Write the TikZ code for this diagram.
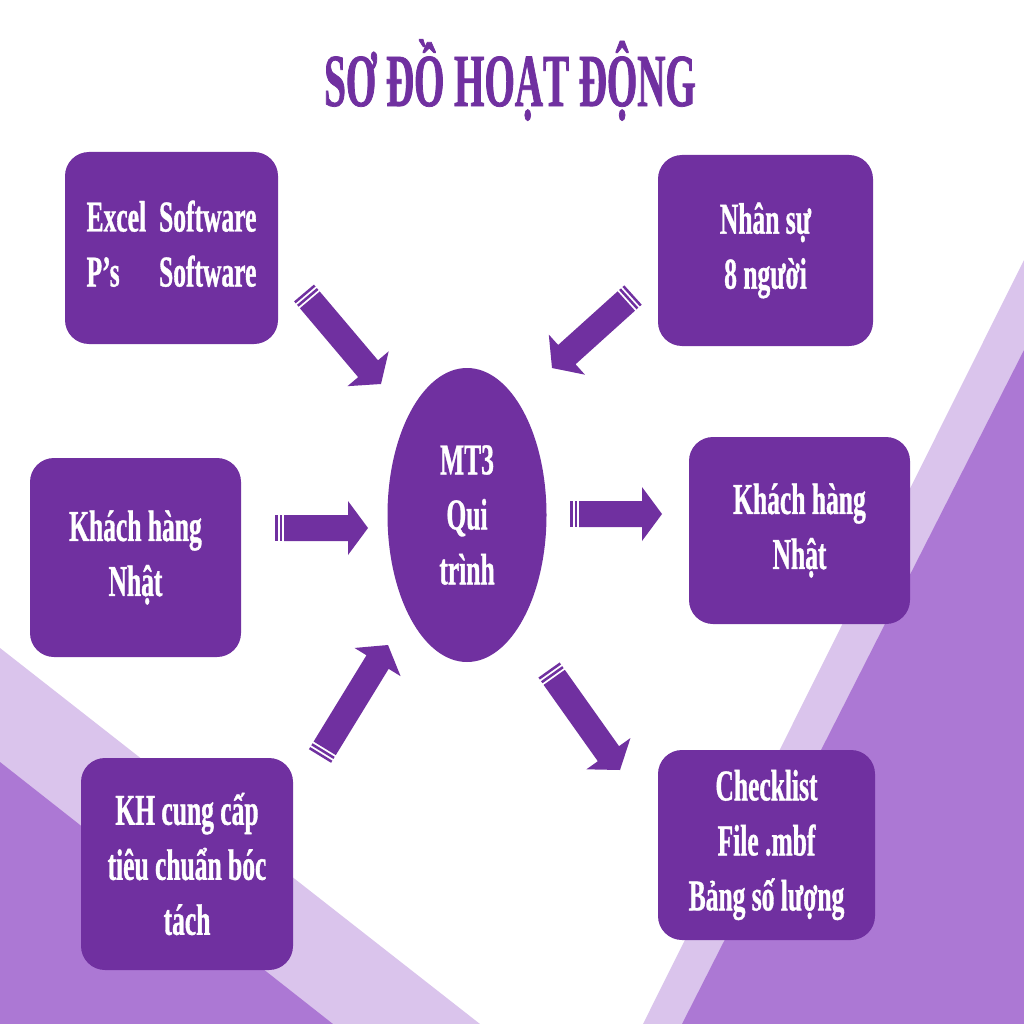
\documentclass[tikz,border=0pt]{standalone}
\usepackage{fontspec}
\usetikzlibrary{calc,shapes.geometric}
\newfontfamily\vnfont[FakeStretch=0.58,FakeBold=0.8]{Liberation Serif}
\newfontfamily\titlefont[FakeStretch=0.52,FakeBold=1]{Liberation Serif}
\definecolor{boxpurple}{HTML}{7030A0}
\definecolor{bandlight}{HTML}{DAC4EC}
\definecolor{banddark}{HTML}{AC78D4}
\tikzset{
  box/.style={fill=boxpurple, rounded corners=24pt, text=white,
    font=\vnfont\bfseries\fontsize{44}{55}\selectfont, align=center, inner sep=0pt},
  hub/.style={ellipse, fill=boxpurple, text=white,
    font=\vnfont\bfseries\fontsize{44}{55}\selectfont, align=center, inner sep=0pt},
  arrowfill/.style={fill=boxpurple},
  titletext/.style={text=boxpurple, font=\titlefont\bfseries\fontsize{75}{80}\selectfont}
}
\newcommand\blockarrow[2]{%
  \coordinate (bA) at (#1);
  \coordinate (bB) at (#2);
  \coordinate (bS) at ($(bA)!9pt!(bB)$);
  \coordinate (bS2) at ($(bA)!2.5pt!(bB)$);
  \coordinate (bS3) at ($(bA)!4.5pt!(bB)$);
  \coordinate (bS4) at ($(bA)!7pt!(bB)$);
  \coordinate (bH) at ($(bB)!20pt!(bA)$);
  \fill[arrowfill] ($(bS)!13pt!90:(bB)$) -- ($(bH)!13pt!-90:(bA)$)
    -- ($(bH)!27pt!-90:(bA)$) -- (bB) -- ($(bH)!27pt!90:(bA)$)
    -- ($(bH)!13pt!90:(bA)$) -- ($(bS)!13pt!-90:(bB)$) -- cycle;
  \fill[arrowfill] ($(bA)!13pt!90:(bB)$) -- ($(bS2)!13pt!90:(bB)$)
    -- ($(bS2)!13pt!-90:(bB)$) -- ($(bA)!13pt!-90:(bB)$) -- cycle;
  \fill[arrowfill] ($(bS3)!13pt!90:(bB)$) -- ($(bS4)!13pt!90:(bB)$)
    -- ($(bS4)!13pt!-90:(bB)$) -- ($(bS3)!13pt!-90:(bB)$) -- cycle;
}
\begin{document}
\begin{tikzpicture}[x=1pt,y=-1pt]
\useasboundingbox (0,0) rectangle (1024,1024);
\fill[white] (0,0) rectangle (1024,1024);
% background bands
\fill[bandlight] (1024,260) -- (643,1024) -- (1024,1024) -- cycle;
\fill[banddark] (1024,350) -- (682,1024) -- (1024,1024) -- cycle;
\fill[bandlight] (0,648) -- (480,1024) -- (0,1024) -- cycle;
\fill[banddark] (0,762) -- (333,1024) -- (0,1024) -- cycle;
% title
\node[titletext] (title) at (510,80) {SƠ ĐỒ HOẠT ĐỘNG};
% boxes
\node[box, minimum width=213pt, minimum height=192pt] (sw) at (171.5,248)
  {\raisebox{-5pt}{\begin{tabular}{@{}l@{\hspace{13pt}}l@{}}Excel & Software\\ P’s & Software\end{tabular}}};
\node[box, minimum width=215pt, minimum height=191pt] (ns) at (765.5,250.5) {Nhân sự\\8 người};
\node[box, minimum width=211pt, minimum height=199pt] (khin) at (135.5,557.5) {Khách hàng\\Nhật};
\node[box, minimum width=221pt, minimum height=187pt] (khout) at (799.5,530.5) {Khách hàng\\Nhật};
\node[box, minimum width=212pt, minimum height=212pt] (tc) at (187,864) {KH cung cấp\\tiêu chuẩn bóc\\tách};
\node[box, minimum width=217pt, minimum height=190pt] (out) at (766.5,845) {Checklist\\File .mbf\\Bảng số lượng};
\node[hub, minimum width=159pt, minimum height=294pt] (mt3) at (467,515) {MT3\\Qui\\trình};
% arrow end points
\coordinate (a1t) at (304,293); \coordinate (a1h) at (381,384);
\coordinate (a2t) at (633,295); \coordinate (a2h) at (552,368);
\coordinate (a3t) at (275,528); \coordinate (a3h) at (368,528);
\coordinate (a4t) at (570,514); \coordinate (a4h) at (662,514);
\coordinate (a5t) at (320,756); \coordinate (a5h) at (388,645);
\coordinate (a6t) at (549,670); \coordinate (a6h) at (620,770);
\blockarrow{a1t}{a1h}
\blockarrow{a2t}{a2h}
\blockarrow{a3t}{a3h}
\blockarrow{a4t}{a4h}
\blockarrow{a5t}{a5h}
\blockarrow{a6t}{a6h}
\end{tikzpicture}
\end{document}
